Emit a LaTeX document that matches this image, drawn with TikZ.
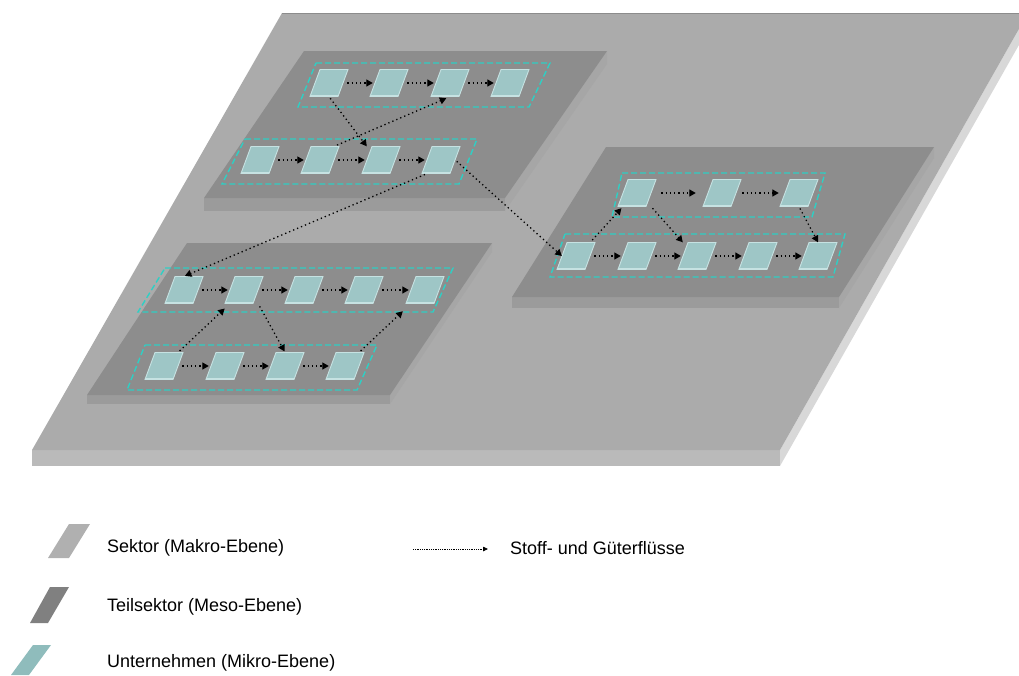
\documentclass[tikz,border=0pt]{standalone}
\usepackage{fontspec}
\setmainfont{Liberation Sans}
\usetikzlibrary{arrows.meta}
\definecolor{platetop}{HTML}{ABABAB}
\definecolor{platefront}{HTML}{BABABA}
\definecolor{plateside}{HTML}{D8D8D8}
\definecolor{subtop}{HTML}{8D8D8D}
\definecolor{subfront}{HTML}{9B9B9B}
\definecolor{subside}{HTML}{A6A6A6}
\definecolor{firmfill}{HTML}{9EC6C6}
\definecolor{firmedge}{HTML}{C6E2E2}
\definecolor{encl}{HTML}{2FCFC4}
\definecolor{legsek}{HTML}{B0B0B0}
\definecolor{legteil}{HTML}{808080}
\definecolor{legfirm}{HTML}{8FBCBC}
% a firm: slanted box drawn first, then a named invisible node on top of it
\newcommand\firmnode[3]{%
  \filldraw[firmshape] (#2-19,#3+13.5) -- (#2+9,#3+13.5) -- (#2+19,#3-13.5) -- (#2-9,#3-13.5) -- cycle;
  \draw[firmedge, line width=1.6pt] (#2-18,#3+13) -- (#2+8.5,#3+13);
  \node[firmanchor] (#1) at (#2,#3) {};
}
\begin{document}
\begin{tikzpicture}[x=1pt,y=-1pt,
  firmshape/.style={fill=firmfill, draw=firmedge, line width=0.9pt},
  firmanchor/.style={rectangle, minimum width=28pt, minimum height=27pt, inner sep=0pt},
  flow/.style={line width=1.3pt, dash pattern=on 1.3pt off 3pt,
    -{Triangle[length=6.5pt,width=7pt]}},
  rowflow/.style={flow, shorten <=4pt, shorten >=2pt},
  encbox/.style={draw=encl, line width=1.4pt, dash pattern=on 6pt off 3pt},
  legtext/.style={anchor=west, inner sep=0pt, font=\fontsize{18}{21}\selectfont}
]
\useasboundingbox (0,0) rectangle (1019,675);
% ---------- sector plate (macro level)
\fill[plateside] (1028,13) -- (1028,29) -- (780,466) -- (780,450) -- cycle;
\fill[platefront] (32,450) -- (780,450) -- (780,466) -- (32,466) -- cycle;
\fill[platetop] (282,13) -- (1028,13) -- (780,450) -- (32,450) -- cycle;
\draw[color=black!45, line width=0.6pt] (282,13) -- (1028,13);
% ---------- sub-sectors (meso level)
% top-left
\fill[subside] (607,51) -- (607,64) -- (505,211) -- (505,198) -- cycle;
\fill[subfront] (204,198) -- (505,198) -- (505,211) -- (204,211) -- cycle;
\fill[subtop] (304,51) -- (607,51) -- (505,198) -- (204,198) -- cycle;
% right
\fill[subside] (934,147) -- (934,158) -- (839,308) -- (839,297) -- cycle;
\fill[subfront] (512,297) -- (839,297) -- (839,308) -- (512,308) -- cycle;
\fill[subtop] (606,147) -- (934,147) -- (839,297) -- (512,297) -- cycle;
% bottom-left
\fill[subside] (492,243) -- (492,252) -- (390,404) -- (390,395) -- cycle;
\fill[subfront] (87,395) -- (390,395) -- (390,404) -- (87,404) -- cycle;
\fill[subtop] (187,243) -- (492,243) -- (390,395) -- (87,395) -- cycle;
% ---------- dashed enclosures of the chains
\draw[encbox] (316,63) -- (550,63) -- (529,107) -- (298,107) -- cycle;
\draw[encbox] (245,139) -- (477,139) -- (459,184) -- (222,184) -- cycle;
\draw[encbox] (622,173) -- (825,173) -- (812,217) -- (612,217) -- cycle;
\draw[encbox] (565,234) -- (845,234) -- (833,277) -- (550,277) -- cycle;
\draw[encbox] (165,268) -- (453,268) -- (433,312) -- (138,312) -- cycle;
\draw[encbox] (145,345) -- (377,345) -- (357,390) -- (127,390) -- cycle;
% ---------- firms (micro level)
\firmnode{A1}{329}{83}
\firmnode{A2}{389}{83}
\firmnode{A3}{450}{83}
\firmnode{A4}{510}{83}
\firmnode{B1}{260}{160}
\firmnode{B2}{320}{160}
\firmnode{B3}{381}{160}
\firmnode{B4}{441}{160}
\firmnode{C1}{637}{193}
\firmnode{C2}{722}{193}
\firmnode{C3}{799}{193}
\firmnode{D1}{576}{256}
\firmnode{D2}{637}{256}
\firmnode{D3}{697}{256}
\firmnode{D4}{758}{256}
\firmnode{D5}{818}{256}
\firmnode{E1}{184}{290}
\firmnode{E2}{244}{290}
\firmnode{E3}{304}{290}
\firmnode{E4}{364}{290}
\firmnode{E5}{425}{290}
\firmnode{F1}{164}{366}
\firmnode{F2}{225}{366}
\firmnode{F3}{285}{366}
\firmnode{F4}{345}{366}
% ---------- flows within chains
\draw[rowflow] (A1) -- (A2);
\draw[rowflow] (A2) -- (A3);
\draw[rowflow] (A3) -- (A4);
\draw[rowflow] (B1) -- (B2);
\draw[rowflow] (B2) -- (B3);
\draw[rowflow] (B3) -- (B4);
\draw[rowflow, shorten <=10pt, shorten >=12pt] (C1) -- (C2);
\draw[rowflow, shorten <=6pt, shorten >=6pt] (C2) -- (C3);
\draw[rowflow] (D1) -- (D2);
\draw[rowflow] (D2) -- (D3);
\draw[rowflow] (D3) -- (D4);
\draw[rowflow] (D4) -- (D5);
\draw[rowflow] (E1) -- (E2);
\draw[rowflow] (E2) -- (E3);
\draw[rowflow] (E3) -- (E4);
\draw[rowflow] (E4) -- (E5);
\draw[rowflow] (F1) -- (F2);
\draw[rowflow] (F2) -- (F3);
\draw[rowflow] (F3) -- (F4);
% ---------- flows between chains and sub-sectors
\draw[flow, shorten <=2pt] (A1.south) -- (B3.north west);
\draw[flow, shorten <=3pt, shorten >=4pt] (B2.north east) -- (A3.south);
\draw[flow, shorten <=2pt] (B4.east) -- (D1.west);
\draw[flow, shorten <=2pt, shorten >=1pt] (B4.south west) -- (E1.north);
\draw[flow, shorten <=3pt, shorten >=2pt] (D1.north east) -- (C1.south west);
\draw[flow, shorten <=2pt] (C1.south east) -- (D3.north west);
\draw[flow, shorten <=2pt] (C3.south) -- (D5.north);
\draw[flow, shorten <=2pt, shorten >=7pt] (F1.north east) -- (E2.south west);
\draw[flow, shorten <=3pt, shorten >=1pt] (E2.south east) -- (F3.north);
\draw[flow, shorten <=2pt, shorten >=11pt] (F4.north east) -- (E5.south west);
% ---------- legend
\fill[legsek] (69,524) -- (90,524) -- (69,558) -- (48,558) -- cycle;
\fill[legteil] (50,587) -- (69,587) -- (48,623) -- (30,623) -- cycle;
\fill[legfirm] (33,645) -- (51,645) -- (29,675) -- (11,675) -- cycle;
\node[legtext] (L1) at (107,548) {Sektor (Makro-Ebene)};
\node[legtext] (L2) at (107,607) {Teilsektor (Meso-Ebene)};
\node[legtext] (L3) at (107,663) {Unternehmen (Mikro-Ebene)};
\node[legtext] (L4) at (510,548) {Stoff- und Güterflüsse};
\coordinate (la) at (413,549);
\coordinate (lb) at (488,549);
\draw[line width=0.8pt, dash pattern=on 0.8pt off 1pt, -{Triangle[length=5pt,width=4.5pt]}] (la) -- (lb);
\end{tikzpicture}
\end{document}
